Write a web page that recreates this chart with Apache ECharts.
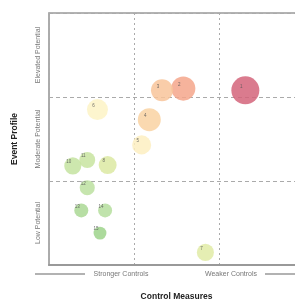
<!DOCTYPE html>
<html>
<head>
<meta charset="utf-8">
<script src="https://cdn.jsdelivr.net/npm/echarts@6/dist/echarts.min.js"></script>
<style>
  html, body { margin: 0; padding: 0; background: #fff; }
  #chart { width: 295px; height: 300px; }
</style>
</head>
<body>
<div id="chart"></div>
<script>
// bubble data
const ids           = ['1', '2', '3', '4', '5', '6', '7', '8', '10', '11', '12', '13', '14', '15']
const controlScores = [2.31, 1.58, 1.33, 1.18, 1.09, 0.57, 1.84, 0.69, 0.28, 0.45, 0.45, 0.38, 0.66, 0.60]
const profileScores = [2.08, 2.10, 2.08, 1.73, 1.43, 1.85, 0.15, 1.19, 1.18, 1.25, 0.92, 0.65, 0.65, 0.38]
const impactScores  = [10, 8.6, 7.9, 8.2, 6.8, 7.5, 6.1, 6.4, 6.1, 5.7, 5.4, 5, 5, 4.6]
const riskScores    = [10, 8.4, 7.2, 6.6, 5.2, 5, 3.6, 3.4, 2.2, 2.4, 1.8, 1, 1.5, 0.5]

const profileLabels = ['Low Potential', 'Moderate Potential', 'Elevated Potential']
const controlLabels = ['Stronger Controls', 'Weaker Controls']

const font = 'Liberation Sans, Arial, sans-serif'

const points = ids.map((id, i) => [controlScores[i], profileScores[i], impactScores[i], riskScores[i], id])

const chart = echarts.init(document.getElementById('chart'))

chart.setOption({
  animation: false,
  grid: {
    left: 49, top: 13, right: -9, bottom: 35,
    outerBoundsMode: 'none',
    show: true, borderColor: '#9a9a9a', borderWidth: 1.5
  },
  xAxis: {
    type: 'value', min: 0, max: 3, interval: 1,
    name: 'Control Measures', nameLocation: 'middle', nameGap: 27,
    nameTextStyle: { fontFamily: font, fontSize: 8.5, fontWeight: 'bold', color: '#222' },
    axisLine: { lineStyle: { color: '#999', width: 2 } },
    axisTick: { show: false },
    axisLabel: { show: false },
    splitLine: { lineStyle: { color: '#aaa', type: [2, 3], width: 1 } }
  },
  yAxis: [
    {
      type: 'value', min: 0, max: 3, interval: 1,
      name: 'Event Profile', nameLocation: 'middle', nameGap: 30,
      nameTextStyle: { fontFamily: font, fontSize: 8.5, fontWeight: 'bold', color: '#222' },
      axisLine: { show: true, lineStyle: { color: '#aaa', width: 1.5 } },
      axisTick: { show: false },
      axisLabel: { show: false },
      splitLine: { lineStyle: { color: '#aaa', type: [4, 3], width: 1 } }
    },
    {
      // category axis only used to centre the band labels
      type: 'category', data: profileLabels, position: 'left',
      axisLine: { show: false }, axisTick: { show: false }, splitLine: { show: false },
      axisLabel: { rotate: 90, margin: 7, fontFamily: font, fontSize: 7, color: '#777' }
    }
  ],
  visualMap: {
    show: false, type: 'continuous', dimension: 3, seriesIndex: 0, min: 0, max: 10,
    inRange: { color: ['#93cd82', '#b9e0a0', '#dbe9a0', '#fdf3c6', '#f9d1a0', '#f5a98c', '#d4647a'] }
  },
  series: [{
    type: 'scatter',
    data: points,
    symbolSize: v => v[2] * 2.8,
    itemStyle: { opacity: 0.85 },
    label: {
      show: true, position: 'inside', offset: [-4, -4],
      formatter: p => p.value[4],
      fontFamily: font, fontSize: 4.5, color: '#555'
    }
  }],
  graphic: [
    { type: 'line', shape: { x1: 35, y1: 274, x2: 85, y2: 274 }, style: { stroke: '#999', lineWidth: 1.5 } },
    { type: 'line', shape: { x1: 265, y1: 274, x2: 320, y2: 274 }, style: { stroke: '#999', lineWidth: 1.5 } },
    { type: 'text', x: 121, y: 274, style: { text: controlLabels[0], x: 0, y: 0, align: 'center', verticalAlign: 'middle', fontFamily: font, fontSize: 7, fill: '#777' } },
    { type: 'text', x: 231, y: 274, style: { text: controlLabels[1], x: 0, y: 0, align: 'center', verticalAlign: 'middle', fontFamily: font, fontSize: 7, fill: '#777' } }
  ]
})
</script>
</body>
</html>
